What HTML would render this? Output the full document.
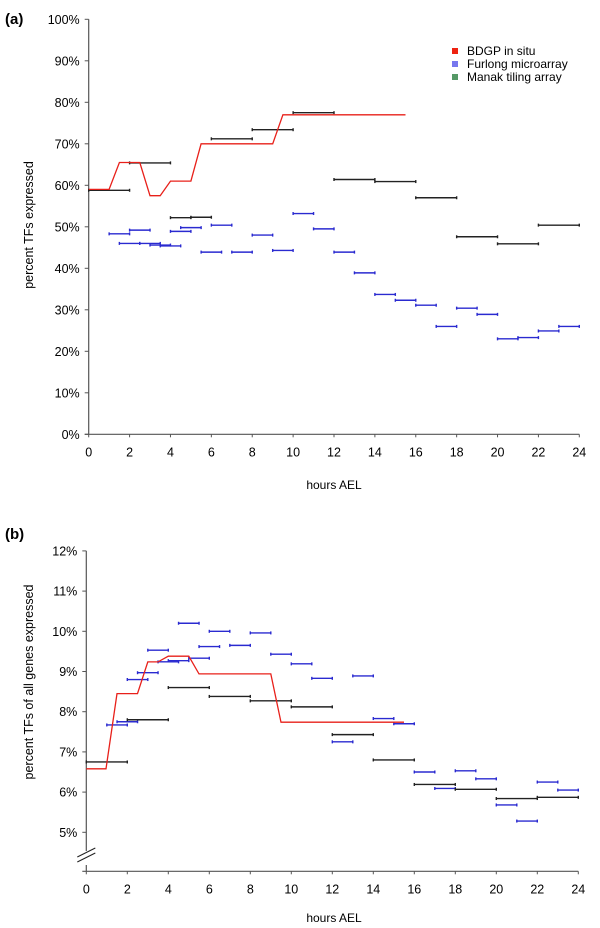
<!DOCTYPE html>
<html><head><meta charset="utf-8"><style>
body{margin:0;background:#fff;}
svg{display:block;font-family:"Liberation Sans",sans-serif;}
</style></head><body>
<svg id="chart" width="600" height="928" viewBox="0 0 600 928">
<text x="5" y="24" font-size="15" font-weight="bold">(a)</text>
<text x="5" y="539" font-size="15" font-weight="bold">(b)</text>
<text transform="translate(33,225) rotate(-90)" text-anchor="middle" font-size="12.5">percent TFs expressed</text>
<text transform="translate(33,682) rotate(-90)" text-anchor="middle" font-size="12.5">percent TFs of all genes expressed</text>
<text x="334" y="489" text-anchor="middle" font-size="12">hours AEL</text>
<text x="334" y="922" text-anchor="middle" font-size="12">hours AEL</text>
<g>
<rect x="452" y="48" width="6" height="6" fill="#ee2211"/>
<text x="467" y="55" font-size="12">BDGP in situ</text>
<rect x="452" y="61" width="6" height="6" fill="#7777ee"/>
<text x="467" y="68" font-size="12">Furlong microarray</text>
<rect x="452" y="74" width="6" height="6" fill="#559966"/>
<text x="467" y="81" font-size="12">Manak tiling array</text>
</g>
</svg>
<script>
// Panel A data
const xTicks = [0,2,4,6,8,10,12,14,16,18,20,22,24];
const aYTicks = [0,10,20,30,40,50,60,70,80,90,100];
const aRedH = [0,1,1.5,2.5,3,3.5,4,5,5.5,9,9.5,15.5];
const aRedV = [59,59,65.5,65.5,57.5,57.5,61,61,70,70,77,77];
const aBlackStart = [0,2,4,5,6,8,10,12,14,16,18,20,22];
const aBlackEnd = [2,4,5,6,8,10,12,14,16,18,20,22,24];
const aBlackV = [58.8,65.4,52.2,52.3,71.2,73.4,77.5,61.4,60.9,57.0,47.6,45.9,50.4];
const aBlueStart = [1,1.5,2,2.5,3,3.5,4,4.5,5.5,6,7,8,9,10,11,12,13,14,15,16,17,18,19,20,21,22,23];
const aBlueV = [48.3,46.0,49.2,46.0,45.6,45.4,48.9,49.8,43.9,50.4,43.9,48.0,44.3,53.2,49.5,43.9,38.9,33.7,32.3,31.1,26.0,30.4,28.9,23.0,23.3,24.9,26.0];
// Panel B data
const bYTicks = [5,6,7,8,9,10,11,12];
const bRedH = [0,0.96,1.5,2.5,3,3.5,4,5,5.5,9,9.5,15.5];
const bRedV = [6.58,6.58,8.45,8.45,9.24,9.24,9.38,9.38,8.94,8.94,7.74,7.74];
const bBlackStart = [0,2,4,6,8,10,12,14,16,18,20,22];
const bBlackV = [6.75,7.80,8.60,8.38,8.27,8.12,7.43,6.80,6.19,6.07,5.84,5.87];
const bBlueStart = [1,1.5,2,2.5,3,3.5,4,4.5,5,5.5,6,7,8,9,10,11,12,13,14,15,16,17,18,19,20,21,22,23];
const bBlueV = [7.67,7.75,8.80,8.97,9.53,9.24,9.27,10.20,9.33,9.62,10.00,9.65,9.96,9.43,9.19,8.83,7.25,8.89,7.83,7.70,6.50,6.09,6.53,6.33,5.68,5.28,6.25,6.05];

const svg = document.getElementById('chart');
const NS = 'http://www.w3.org/2000/svg';
function mk(tag, attrs){const e=document.createElementNS(NS,tag);for(const k in attrs)e.setAttribute(k,attrs[k]);svg.appendChild(e);return e;}

const A = {x0:88.7, x1:579.3, y0:434.3, yPer:4.15, vmin:0};
const B = {x0:86.3, x1:578.3, y0:832.3, yPer:40.2, vmin:5, axisY:871.3};
function ax(p,h){return p.x0+(p.x1-p.x0)*h/24;}
function ay(p,v){return p.y0-(v-p.vmin)*p.yPer;}

function axes(p, yTicks, axisY, topY, tag){
  let e=mk('line',{x1:p.x0,y1:topY,x2:p.x0,y2:axisY,stroke:'#555','stroke-width':1.2});
  
  
  e=mk('line',{x1:p.x0-4,y1:axisY,x2:p.x1,y2:axisY,stroke:'#555','stroke-width':1.2});
  
  
  xTicks.forEach(t=>{
    const x=ax(p,t);
    const l=mk('line',{x1:x,y1:axisY,x2:x,y2:axisY+3,stroke:'#555'});
    
    
    const tx=mk('text',{x:x,y:axisY+22,'text-anchor':'middle','font-size':12.5});
    tx.textContent=t;
    
    
  });
  yTicks.forEach(t=>{
    const y=ay(p,t);
    const l=mk('line',{x1:p.x0-4,y1:y,x2:p.x0,y2:y,stroke:'#555'});
    
    
    const tx=mk('text',{x:p.x0-9,y:y+4.5,'text-anchor':'end','font-size':12.5});
    tx.textContent=t+'%';
    
    
  });
}
function bar(p,h0,h1,v,color,name){
  const y=ay(p,v), xa=ax(p,h0), xb=ax(p,h1);
  const g=document.createElementNS(NS,'g');
  
  
  svg.appendChild(g);
  [[xa,y,xb,y],[xa,y-1.5,xa,y+1.5],[xb,y-1.5,xb,y+1.5]].forEach(c=>{
    const l=document.createElementNS(NS,'line');
    l.setAttribute('x1',c[0]);l.setAttribute('y1',c[1]);l.setAttribute('x2',c[2]);l.setAttribute('y2',c[3]);
    l.setAttribute('stroke',color);l.setAttribute('stroke-width',1.4);
    g.appendChild(l);
  });
}
function redLine(p,H,V,name){
  const pts=H.map((h,i)=>ax(p,h).toFixed(1)+','+ay(p,V[i]).toFixed(1)).join(' ');
  const e=mk('polyline',{points:pts,fill:'none',stroke:'#e8201a','stroke-width':1.3});
  
  
}

// Panel A
axes(A,aYTicks,A.y0,ay(A,100),'a');
aBlueStart.forEach((s,i)=>bar(A,s,s+1,aBlueV[i],'#2a2ad0','furlong-bar-a'));
aBlackStart.forEach((s,i)=>bar(A,s,aBlackEnd[i],aBlackV[i],'#222','manak-bar-a'));
redLine(A,aRedH,aRedV,'bdgp-line-a');

// Panel B
axes(B,bYTicks,B.axisY,ay(B,12),'b');
bBlueStart.forEach((s,i)=>bar(B,s,s+1,bBlueV[i],'#2a2ad0','furlong-bar-b'));
bBlackStart.forEach((s,i)=>bar(B,s,s+2,bBlackV[i],'#222','manak-bar-b'));
redLine(B,bRedH,bRedV,'bdgp-line-b');
// axis break marks
const br=mk('rect',{x:B.x0-6,y:851,width:12,height:14,fill:'#fff'});


[0,5].forEach(d=>{
  const l=mk('line',{x1:B.x0-9,y1:857+d,x2:B.x0+9,y2:848+d,stroke:'#222','stroke-width':1});
  
  
});
</script>
</body></html>
